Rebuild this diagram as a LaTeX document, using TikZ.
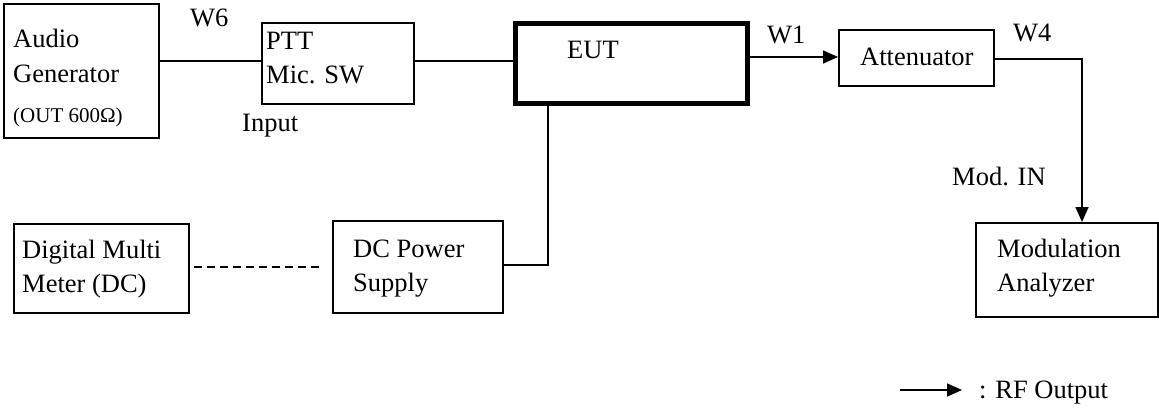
\documentclass[tikz,border=0pt]{standalone}
\usepackage{fontspec}
\setmainfont{Liberation Serif}
\usetikzlibrary{arrows.meta,calc}
\tikzset{
  box/.style={draw, line width=1.6pt, inner sep=0pt, anchor=north west},
  thickbox/.style={draw, line width=5pt, inner sep=0pt, anchor=north west},
  txt/.style={anchor=base west, inner sep=0pt, font=\fontsize{26.5}{32}\selectfont},
  smalltxt/.style={anchor=base west, inner sep=0pt, font=\fontsize{21}{25}\selectfont},
  wire/.style={line width=1.6pt},
  rf/.style={line width=1.6pt, -{Triangle[length=15pt,width=13pt]}},
}
\begin{document}
\begin{tikzpicture}[x=1pt,y=-1pt]
\useasboundingbox[fill=white] (0,0) rectangle (1159,415);
% boxes
\node[box, minimum width=155pt, minimum height=134pt] (ag) at (3,3) {};
\node[box, minimum width=152pt, minimum height=81pt] (ptt) at (261,22) {};
\node[thickbox, minimum width=232pt, minimum height=80pt] (eut) at (512.5,20.5) {};
\node[box, minimum width=155pt, minimum height=56pt] (att) at (838,29) {};
\node[box, minimum width=182pt, minimum height=94pt] (ma) at (975,222) {};
\node[box, minimum width=175pt, minimum height=89pt] (dmm) at (13,223) {};
\node[box, minimum width=170pt, minimum height=92pt] (dcps) at (332,220) {};
% texts
\node[txt] (t1) at (13,47) {Audio};
\node[txt] (t2) at (13,82) {Generator};
\node[smalltxt] (t3) at (13,122) {(OUT 600Ω)};
\node[txt] (w6) at (190,27) {W6};
\node[txt] (t4) at (266,49) {PTT};
\node[txt] (t5) at (266,83) {Mic. SW};
\node[txt] (inp) at (242,131) {Input};
\node[txt] (t6) at (567,58) {EUT};
\node[txt] (w1) at (767,43) {W1};
\node[txt] (t7) at (860,65) {Attenuator};
\node[txt] (w4) at (1013,41) {W4};
\node[txt] (modin) at (952,185) {Mod. IN};
\node[txt] (t8) at (997,257) {Modulation};
\node[txt] (t9) at (997,291) {Analyzer};
\node[txt] (t10) at (22,258) {Digital Multi};
\node[txt] (t11) at (22,292) {Meter (DC)};
\node[txt] (t12) at (353,257) {DC Power};
\node[txt] (t13) at (353,291) {Supply};
% connectors
\draw[wire] (ag.east |- 0,61) -- (ptt.west |- 0,61);
\draw[wire] (ptt.east |- 0,61) -- (eut.west |- 0,61);
\draw[rf] (eut.east |- 0,57) -- (att.west |- 0,57);
\coordinate (c1) at (1082,59);
\draw[rf] (att.east |- c1) -- (c1) -- (c1 |- ma.north);
\coordinate (c2) at (548,265);
\draw[wire] (c2 |- eut.south) -- (c2) -- (dcps.east |- c2);
\draw[wire, dash pattern=on 8pt off 5pt] ($(dmm.east |- 0,267)+(4,0)$) -- ($(dcps.west |- 0,267)+(-10,0)$);
% legend
\coordinate (l1) at (900,390);
\coordinate (l2) at (962,390);
\draw[rf] (l1) -- (l2);
\node[txt] (leg) at (979,398) {: RF Output};
\end{tikzpicture}
\end{document}
